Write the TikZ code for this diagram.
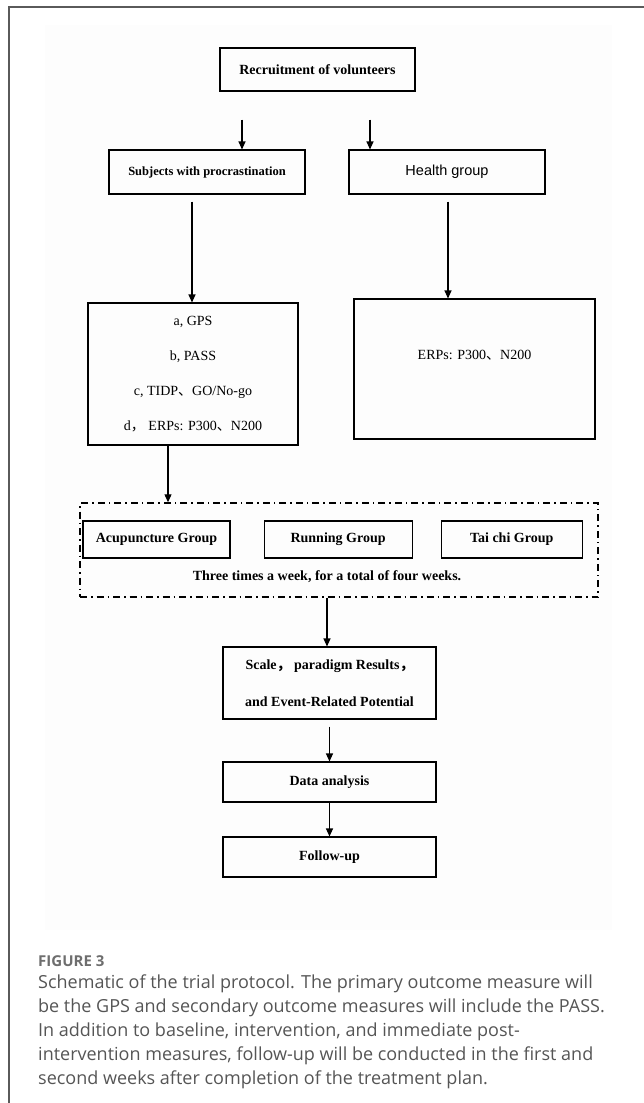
\documentclass[tikz,border=0pt]{standalone}
\usepackage{fontspec}
\setmainfont{Liberation Serif}
\setsansfont{Liberation Sans}
\newfontfamily\capfont{Open Sans}
\newfontfamily\cjk{Noto Sans CJK SC}
\usetikzlibrary{arrows.meta, positioning}
\definecolor{capgray}{HTML}{555555}
\definecolor{framegray}{HTML}{5A5A5A}

\begin{document}
\begin{tikzpicture}[x=1pt, y=-1pt,
  box/.style={draw, line width=1.1pt, font=\fontsize{14}{16}\selectfont\bfseries, align=center, inner sep=0pt},
  grp/.style={box, minimum height=37pt},
  arr/.style={line width=1.1pt, -{Triangle[length=8pt, width=7pt]}},
  dashdot box/.style={draw, line width=1.4pt, dash pattern=on 7pt off 4pt on 1.5pt off 4pt}
]
\useasboundingbox (0,0) rectangle (644,1103);

% card border and figure area
\draw[framegray, line width=1.5pt] (644,7) -- (9,7) -- (9,1103);
\fill[black!0.7] (45,25) rectangle (612,930);

\node[box, minimum width=195pt, minimum height=43pt] (rec) at (317.5,69.5) {Recruitment of volunteers};
\node[box, minimum width=196pt, minimum height=44pt, font=\fontsize{12.5}{15}\selectfont\bfseries] (subj) at (207,172) {Subjects with procrastination};
\node[box, minimum width=196pt, minimum height=44pt, font=\fontsize{14.5}{17}\selectfont\sffamily] (hlth) at (447,172) {Health group};

\node[box, minimum width=210pt, minimum height=142pt, font=\fontsize{14}{35}\selectfont] (scr) at (193,374)
  {a, GPS\\b, PASS\\c, TIDP{\cjk 、}GO/No-go\\d{\cjk ，} ERPs: P300{\cjk 、}N200};
\node[box, minimum width=241pt, text height=60pt, text depth=80pt, font=\fontsize{14}{16}\selectfont] (herp) at (474.5,369) {ERPs: P300{\cjk 、}N200};

% intervention period
\node[dashdot box, minimum width=518pt, minimum height=94pt] (wk) at (339,550) {};
\node[grp, minimum width=147pt] (acu) at (156.5,539.5) {Acupuncture Group};
\node[grp, minimum width=148pt, right=33pt of acu] (run) {Running Group};
\node[grp, minimum width=141pt, right=28pt of run] (tai) {Tai chi Group};
\node[font=\fontsize{14}{16}\selectfont\bfseries] (freq) at (327,577) {Three times a week, for a total of four weeks.};

\node[box, minimum width=213pt, minimum height=72pt, font=\fontsize{14}{37}\selectfont\bfseries] (res) at (329.5,683)
  {Scale{\cjk ，} paradigm Results{\cjk ，}\\and Event-Related Potential};
\node[box, minimum width=213pt, minimum height=40pt] (ana) at (329.5,782) {Data analysis};
\node[box, minimum width=213pt, minimum height=40pt] (fup) at (329.5,857) {Follow-up};

\draw[arr, shorten <=28pt] ([xshift=35pt]subj.north |- rec.south) -- ([xshift=35pt]subj.north);
\draw[arr, shorten <=28pt] ([xshift=-77pt]hlth.north |- rec.south) -- ([xshift=-77pt]hlth.north);
\draw[arr, shorten <=7pt] ([xshift=-15pt]subj.south) -- ([xshift=-15pt]subj.south |- scr.north);
\draw[arr, shorten <=7pt] ([xshift=1pt]hlth.south) -- ([xshift=1pt]hlth.south |- herp.north);
\draw[arr] ([xshift=-25pt]scr.south) -- ([xshift=-25pt]scr.south |- wk.north);
\draw[arr] ([xshift=-12pt]wk.south) -- ([xshift=-12pt]wk.south |- res.north);
\draw[arr, shorten <=7pt] (res.south) -- (ana.north);
\draw[arr] (ana.south) -- (fup.north);

% caption
\node[anchor=base west, inner sep=0pt, text=capgray!85, font=\capfont\bfseries\fontsize{15}{18}\selectfont] (fig) at (38,966) {FIGURE 3};
\node[anchor=north west, inner sep=0pt, align=left, text=capgray, font=\capfont\fontsize{18}{24}\selectfont] (cap) at (38,975)
  {Schematic of the trial protocol. The primary outcome measure will\\
   be the GPS and secondary outcome measures will include the PASS.\\
   In addition to baseline, intervention, and immediate post-\\
   intervention measures, follow-up will be conducted in the first and\\
   second weeks after completion of the treatment plan.};
\end{tikzpicture}
\end{document}
